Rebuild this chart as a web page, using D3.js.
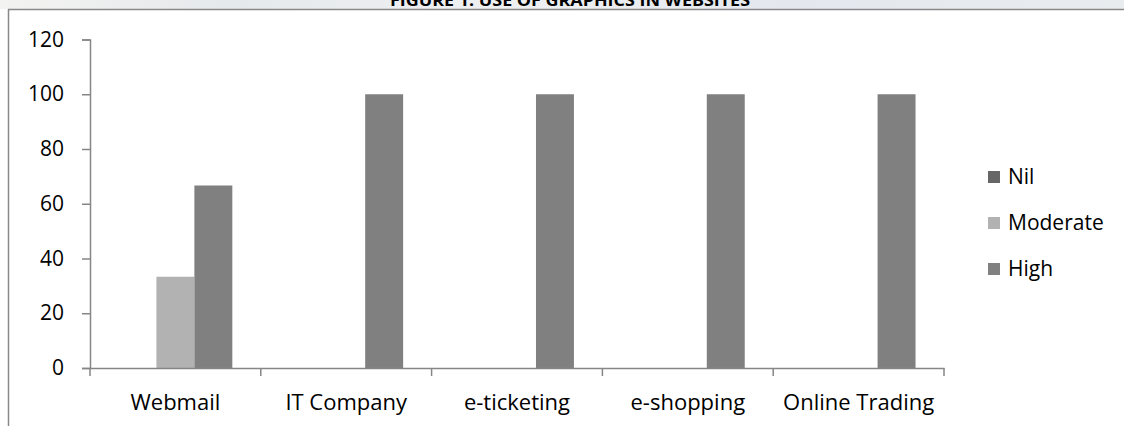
<!DOCTYPE html>
<html>
<head>
<meta charset="utf-8">
<script src="https://cdn.jsdelivr.net/npm/d3@7"></script>
<style>
  html, body { margin: 0; padding: 0; background: #fff; }
  svg { display: block; }
  text { font-family: "Open Sans", "Noto Sans", sans-serif; fill: #000; }
</style>
</head>
<body>
<svg id="chart" width="1124" height="426"></svg>
<script>
const title = "FIGURE 1: USE OF GRAPHICS IN WEBSITES";
const categories = ["Webmail", "IT Company", "e-ticketing", "e-shopping", "Online Trading"];
const seriesNames = ["Nil", "Moderate", "High"];
const nilValues = [0, 0, 0, 0, 0];
const moderateValues = [33.33, 0, 0, 0, 0];
const highValues = [66.67, 100, 100, 100, 100];
const yTicks = [0, 20, 40, 60, 80, 100, 120];
const seriesColors = ["#666666", "#b2b2b2", "#808080"];

const seriesValues = [nilValues, moderateValues, highValues];

const svg = d3.select("#chart");
const W = 1124, H = 426;

svg.append("rect").attr("width", W).attr("height", H).attr("fill", "#fff");

// faint header strip
const strip = svg.append("defs").append("linearGradient").attr("id", "strip")
  .attr("x1", 0).attr("x2", 1).attr("y1", 0).attr("y2", 0);
[["0%", "#f3f3f1"], ["20%", "#e6e9ec"], ["45%", "#eef0f2"], ["70%", "#e4e8ee"], ["100%", "#e9ecef"]]
  .forEach(([o, c]) => strip.append("stop").attr("offset", o).attr("stop-color", c));
svg.append("rect").attr("x", 0).attr("y", 0).attr("width", W).attr("height", 9).attr("fill", "url(#strip)");

svg.append("text")
  .attr("x", 570).attr("y", 6)
  .attr("text-anchor", "middle")
  .attr("font-size", 16).attr("font-weight", "bold")
  .attr("textLength", 360).attr("lengthAdjust", "spacingAndGlyphs")
  .text(title);

// frame
svg.append("line").attr("x1", 8).attr("x2", W).attr("y1", 9.5).attr("y2", 9.5)
  .attr("stroke", "#898989").attr("stroke-width", 1.5);
svg.append("line").attr("x1", 8.5).attr("x2", 8.5).attr("y1", 9).attr("y2", H)
  .attr("stroke", "#898989").attr("stroke-width", 1.5);

const plotLeft = 90, plotRight = 944, plotTop = 39.5, plotBottom = 368;

const y = d3.scaleLinear().domain([0, 120]).range([plotBottom, plotTop]);
const x = d3.scaleBand().domain(categories).range([plotLeft, plotRight]).paddingInner(0).paddingOuter(0);
const bw = x.bandwidth() / 4.5;
const xs = d3.scaleBand().domain(seriesNames).range([0.75 * bw, 3.75 * bw]).padding(0);

const axisColor = "#868686";

// bars
seriesNames.forEach((s, si) => {
  svg.append("g").selectAll("rect")
    .data(categories.map((c, i) => ({ c, v: seriesValues[si][i] })))
    .join("rect")
    .attr("x", d => x(d.c) + xs(s))
    .attr("width", xs.bandwidth())
    .attr("y", d => y(d.v))
    .attr("height", d => y(0) - y(d.v))
    .attr("fill", seriesColors[si]);
});

// y axis
const yAxis = svg.append("g")
  .attr("transform", `translate(${plotLeft},0)`)
  .call(d3.axisLeft(y).tickValues(yTicks).tickSize(8).tickPadding(18).tickFormat(d3.format("d")));
yAxis.select(".domain").attr("stroke", axisColor).attr("stroke-width", 1.5);
yAxis.selectAll(".tick line").attr("stroke", axisColor).attr("stroke-width", 1.5);
yAxis.selectAll(".tick text").attr("font-size", 21).attr("font-family", "'Open Sans', sans-serif").attr("fill", "#000");

// x axis
const xAxis = svg.append("g")
  .attr("transform", `translate(0,${plotBottom})`)
  .call(d3.axisBottom(x).tickSize(0).tickSizeOuter(0).tickPadding(0));
xAxis.select(".domain").attr("stroke", axisColor).attr("stroke-width", 1.5);
xAxis.selectAll(".tick text")
  .attr("font-size", 22).attr("font-family", "'Open Sans', sans-serif").attr("fill", "#000")
  .attr("dy", null).attr("y", 42);
// category boundary ticks
const bounds = categories.map(c => x(c)).concat([x(categories[categories.length - 1]) + x.bandwidth()]);
xAxis.selectAll(".bound").data(bounds).join("line").attr("class", "bound")
  .attr("x1", d => d).attr("x2", d => d).attr("y1", 0).attr("y2", 8)
  .attr("stroke", axisColor).attr("stroke-width", 1.5);

// legend
const lg = svg.append("g").attr("transform", "translate(988,171)");
seriesNames.forEach((s, i) => {
  const g = lg.append("g").attr("transform", `translate(0,${i * 46})`);
  g.append("rect").attr("width", 12).attr("height", 12).attr("fill", seriesColors[i]);
  g.append("text").attr("x", 20).attr("y", 12.5).attr("font-size", 21).text(s);
});
</script>
</body>
</html>
